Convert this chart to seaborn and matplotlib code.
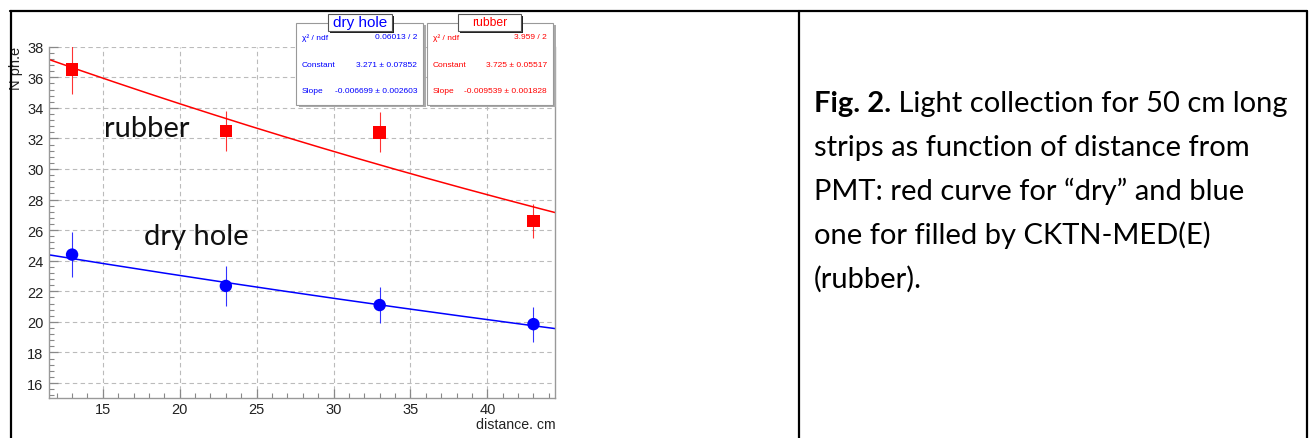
import numpy as np
import pandas as pd
import matplotlib
matplotlib.use('Agg')
import matplotlib.pyplot as plt
import seaborn as sns
from matplotlib.patches import Rectangle
from matplotlib.lines import Line2D
from matplotlib.ticker import MultipleLocator

# measured light yield vs distance from PMT
distance = [13, 23, 33, 43]
rubber_npe = [36.5, 32.5, 32.4, 26.6]
rubber_err = [1.6, 1.3, 1.3, 1.1]
dry_npe = [24.4, 22.35, 21.1, 19.85]
dry_err = [1.45, 1.3, 1.2, 1.15]

# expo fit results as printed in the ROOT stat boxes
dry_fit = {'Constant': 3.271, 'Slope': -0.006699}
rubber_fit = {'Constant': 3.725, 'Slope': -0.009539}

dry_stats = [('χ² / ndf', '0.06013 / 2'),
             ('Constant', '3.271 ± 0.07852'),
             ('Slope', '-0.006699 ± 0.002603')]
rubber_stats = [('χ² / ndf', '3.959 / 2'),
                ('Constant', '3.725 ± 0.05517'),
                ('Slope', '-0.009539 ± 0.001828')]

x_ticks = [15, 20, 25, 30, 35, 40]
y_ticks = [16, 18, 20, 22, 24, 26, 28, 30, 32, 34, 36, 38]

caption_bold = 'Fig. 2.'
caption_lines = [' Light collection for 50 cm long',
                 'strips as function of distance from',
                 'PMT: red curve for \u201cdry\u201d and blue',
                 'one for filled by CKTN-MED(E)',
                 '(rubber).']

W, H = 1315, 439


def fx(px):
    return px / W


def fy(py):
    return 1 - py / H


sns.set_style('white')
plt.rcParams['font.family'] = ['Liberation Sans', 'DejaVu Sans']

fig = plt.figure(figsize=(W / 100, H / 100), dpi=100)
ax = fig.add_axes([fx(49), fy(399.3), (555 - 49) / W, (399.3 - 47.7) / H])

pts = pd.DataFrame({
    'distance': distance * 2,
    'npe': rubber_npe + dry_npe,
    'err': rubber_err + dry_err,
    'sample': ['rubber'] * 4 + ['dry hole'] * 4,
})

xs = np.linspace(11.5, 44.4, 200)
fit_df = pd.concat([
    pd.DataFrame({'distance': xs, 'npe': np.exp(rubber_fit['Constant'] + rubber_fit['Slope'] * xs), 'sample': 'rubber'}),
    pd.DataFrame({'distance': xs, 'npe': np.exp(dry_fit['Constant'] + dry_fit['Slope'] * xs), 'sample': 'dry hole'}),
])
palette = {'rubber': '#ff0000', 'dry hole': '#0000ff'}

sns.lineplot(data=fit_df, x='distance', y='npe', hue='sample', palette=palette,
             lw=1.1, legend=False, ax=ax, zorder=2)
for name, grp in pts.groupby('sample'):
    ax.errorbar(grp['distance'], grp['npe'], yerr=grp['err'], fmt='none',
                ecolor=palette[name], elinewidth=0.8, alpha=0.8, zorder=3)
sns.scatterplot(data=pts, x='distance', y='npe', hue='sample', style='sample',
                markers={'rubber': 's', 'dry hole': 'o'}, palette=palette,
                s=80, linewidth=0, legend=False, ax=ax, zorder=4)

ax.set_xlim(11.5, 44.4)
ax.set_ylim(15, 38)
ax.set_xticks(x_ticks)
ax.set_yticks(y_ticks)
ax.xaxis.set_minor_locator(MultipleLocator(1))
ax.yaxis.set_minor_locator(MultipleLocator(0.4))
ax.tick_params(which='both', direction='in', colors='#888888', labelcolor='#222222',
               labelsize=10.5, bottom=True, left=True, top=False, right=False)
ax.tick_params(which='major', length=6.5, width=0.9)
ax.tick_params(axis='x', which='major', pad=2.5)
ax.tick_params(axis='y', which='major', pad=4)
ax.tick_params(which='minor', length=3.5, width=0.8)
ax.grid(True, which='major', color='#bbbbbb', linestyle=(0, (4, 3)), lw=0.8)
ax.set_xlabel('')
ax.set_ylabel('')
for side in ['left', 'bottom', 'right']:
    ax.spines[side].set_color('#999999')
    ax.spines[side].set_linewidth(1.0)
ax.spines['top'].set_visible(False)

# big labels on the curves
ax.text(15.1, 32.16, 'rubber', fontsize=21, family=['Lato', 'DejaVu Sans'], color='#111111')
ax.text(17.7, 25.1, 'dry hole', fontsize=21, family=['Lato', 'DejaVu Sans'], color='#111111')

fig.text(fx(16), fy(47), 'N ph.e', rotation=90, ha='center', va='top', fontsize=10.5, color='#222222')
fig.text(fx(556), fy(425), 'distance. cm', ha='right', va='center', fontsize=10.2, color='#222222')


def stat_box(x0, x1, y0, y1, title, tx0, tx1, title_size, rows, color, val_x):
    fig.add_artist(Rectangle((fx(x0 + 3), fy(y1 + 2)), (x1 - x0) / W, (y1 - y0) / H,
                             transform=fig.transFigure, facecolor='#aaaaaa', edgecolor='none', zorder=4))
    fig.add_artist(Rectangle((fx(x0), fy(y1)), (x1 - x0) / W, (y1 - y0) / H,
                             transform=fig.transFigure, facecolor='white', edgecolor='#999999',
                             lw=0.8, zorder=4.1))
    fig.add_artist(Rectangle((fx(tx0 + 2), fy(32 + 2)), (tx1 - tx0) / W, 17 / H,
                             transform=fig.transFigure, facecolor='#222222', edgecolor='none', zorder=4.2))
    fig.add_artist(Rectangle((fx(tx0), fy(32)), (tx1 - tx0) / W, 17 / H,
                             transform=fig.transFigure, facecolor='white', edgecolor='#555555',
                             lw=0.8, zorder=4.3))
    fig.text(fx((tx0 + tx1) / 2), fy(23.5), title, ha='center', va='center',
             fontsize=title_size, color=color, zorder=5)
    for (lab, val), yy in zip(rows, [37.7, 65.7, 91.7]):
        fig.text(fx(x0 + 6), fy(yy), lab, ha='left', va='center', fontsize=6, color=color, zorder=5)
        fig.text(fx(val_x), fy(yy), val, ha='right', va='center', fontsize=6, color=color, zorder=5)


stat_box(296, 423, 24, 106, 'dry hole', 328, 392, 11, dry_stats, '#0000ff', 417)
stat_box(427, 553, 24, 106, 'rubber', 458, 521, 8.7, rubber_stats, '#ff0000', 547)

# table frame around the figure cell and caption cell
frame_kw = dict(transform=fig.transFigure, color='black', lw=1.6, zorder=6)
fig.add_artist(Line2D([fx(9.5), fx(1307)], [fy(11.5), fy(11.5)], **frame_kw))
fig.add_artist(Line2D([fx(10.5), fx(10.5)], [fy(11.5), fy(439)], **frame_kw))
fig.add_artist(Line2D([fx(1306.5), fx(1306.5)], [fy(11.5), fy(439)], **frame_kw))
fig.add_artist(Line2D([fx(799.3), fx(799.3)], [fy(11.5), fy(439)], **frame_kw))

cap_font = dict(fontsize=21, family=['Lato', 'DejaVu Sans'], color='black', va='baseline', ha='left')
bold = fig.text(fx(814), fy(111.7), caption_bold, fontweight='bold', **cap_font)
fig.canvas.draw()
bb = bold.get_window_extent(renderer=fig.canvas.get_renderer())
fig.text(bb.x1 / W, fy(111.7), caption_lines[0], **cap_font)
for i, line in enumerate(caption_lines[1:], start=1):
    fig.text(fx(814), fy(111.7 + 44 * i), line, **cap_font)

fig.savefig('out.png', dpi=100)
